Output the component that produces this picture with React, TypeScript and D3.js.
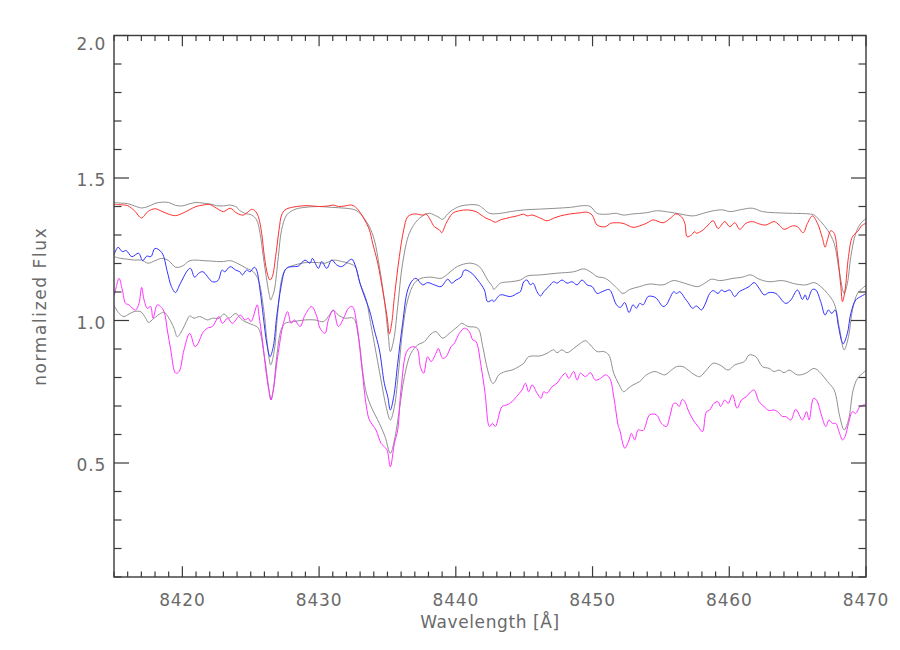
import React from "react";
import * as d3 from "d3";

const xDomain: [number, number] = [8415, 8470];
const yDomain: [number, number] = [0.1, 2.0];
const xMajorTicks = [8420, 8430, 8440, 8450, 8460, 8470];
const yMajorTicks = [0.5, 1.0, 1.5, 2.0];
const xTitle = "Wavelength [Å]";
const yTitle = "normalized Flux";

// [wavelength (Å), normalized flux]
const redSpectrum: [number, number][] = [
  [8415.0,1.408],[8415.5,1.406],[8416.0,1.403],[8416.5,1.385],[8417.0,1.360],[8417.5,1.383],[8418.0,1.392],[8418.5,1.383],[8419.0,1.373],[8419.5,1.368],[8420.0,1.376],[8420.5,1.388],[8421.0,1.400],[8421.5,1.405],[8422.0,1.407],[8422.5,1.394],[8423.0,1.382],[8423.5,1.394],[8424.0,1.376],
  [8424.46,1.370],[8424.82,1.382],[8425.07,1.390],[8425.31,1.385],[8425.56,1.364],[8425.80,1.306],[8426.0,1.224],[8426.24,1.160],[8426.41,1.142],[8426.58,1.154],[8426.82,1.224],[8427.07,1.318],[8427.26,1.370],[8427.51,1.388],[8428.0,1.397],[8428.73,1.402],[8429.21,1.403],[8429.95,1.400],[8430.68,1.402],[8431.04,1.405],[8431.41,1.400],[8431.90,1.402],[8432.39,1.405],[8432.75,1.394],[8433.12,1.370],[8433.46,1.341],
  [8433.68,1.318],[8433.92,1.271],[8434.29,1.201],[8434.65,1.107],[8434.97,1.014],[8435.14,0.953],[8435.31,0.990],[8435.51,1.084],[8435.87,1.224],[8436.19,1.318],[8436.48,1.364],[8436.97,1.374],[8437.58,1.370],[8437.82,1.374],[8438.14,1.353],[8438.43,1.329],[8438.80,1.318],[8438.97,1.308],[8439.29,1.341],[8439.77,1.376],[8440.26,1.385],[8440.87,1.388],[8441.48,1.382],[8441.85,1.370],[8442.21,1.359],
  [8442.53,1.353],[8442.89,1.345],[8443.26,1.353],[8444.0,1.362],[8444.48,1.367],[8444.97,1.373],[8445.21,1.367],[8445.58,1.370],[8446.19,1.359],[8446.67,1.350],[8447.16,1.359],[8447.65,1.367],[8448.38,1.374],[8449.11,1.378],[8449.60,1.380],[8449.97,1.370],[8450.33,1.335],[8450.94,1.329],[8451.31,1.341],
  [8451.75,1.343],[8452.23,1.341],[8452.96,1.327],[8453.45,1.332],[8453.94,1.341],[8454.43,1.353],[8455.16,1.343],[8455.77,1.362],[8456.09,1.374],[8456.50,1.364],[8456.75,1.341],[8456.92,1.294],[8457.23,1.300],[8457.48,1.312],[8457.60,1.306],[8458.09,1.318],[8458.45,1.335],[8458.82,1.350],[8459.18,1.323],[8459.67,1.347],[8460.04,1.329],[8460.40,1.343],[8460.77,1.320],
  [8461.21,1.341],[8461.69,1.347],[8462.18,1.339],[8462.67,1.335],[8463.28,1.347],[8463.65,1.335],[8464.01,1.320],[8464.62,1.332],[8464.99,1.329],[8465.40,1.308],[8465.72,1.341],[8466.08,1.367],[8466.45,1.341],[8466.82,1.288],[8467.01,1.257],[8467.18,1.283],[8467.43,1.315],[8467.67,1.306],[8467.91,1.236],[8468.16,1.119],[8468.28,1.066],[8468.47,1.107],[8468.72,1.224],[8469.01,1.294],[8469.38,1.312],[8469.74,1.335],[8470.03,1.341],
];

const grayTop: [number, number][] = [
  [8415.0,1.414],[8415.5,1.412],[8416.0,1.410],[8416.5,1.402],[8417.0,1.395],[8417.5,1.400],[8418.0,1.411],[8418.5,1.415],[8419.0,1.414],[8419.5,1.404],[8420.0,1.402],[8420.5,1.409],[8421.0,1.414],[8421.5,1.412],[8422.0,1.409],[8422.5,1.403],[8423.0,1.402],[8423.5,1.405],[8424.0,1.397],
  [8424.09,1.390],[8424.58,1.376],[8425.07,1.370],[8425.43,1.353],[8425.68,1.306],[8425.92,1.224],[8426.17,1.142],[8426.34,1.095],[8426.46,1.072],[8426.58,1.084],[8426.73,1.107],[8427.02,1.224],[8427.26,1.318],[8427.63,1.370],[8428.24,1.390],[8428.97,1.397],[8429.95,1.400],[8430.92,1.397],[8431.90,1.394],[8432.63,1.388],[8433.12,1.370],[8433.46,1.347],
  [8433.68,1.329],[8434.04,1.283],[8434.41,1.189],[8434.77,1.072],[8435.07,0.943],[8435.21,0.891],[8435.46,0.932],[8435.75,1.049],[8436.11,1.201],[8436.60,1.306],[8437.21,1.353],[8437.70,1.370],[8438.07,1.376],[8438.68,1.364],[8439.04,1.355],[8439.41,1.374],[8439.77,1.388],[8440.38,1.402],[8441.60,1.405],[8441.97,1.394],[8442.46,1.376],
  [8443.26,1.376],[8444.0,1.382],[8444.97,1.388],[8446.19,1.391],[8447.40,1.394],[8448.38,1.397],[8449.36,1.403],[8449.84,1.400],[8450.33,1.376],[8451.06,1.373],
  [8451.75,1.376],[8452.23,1.370],[8452.96,1.374],[8453.94,1.378],[8454.67,1.385],[8455.65,1.380],[8456.38,1.374],[8457.36,1.367],[8458.09,1.376],[8458.82,1.385],[8459.55,1.388],[8460.04,1.382],
  [8460.96,1.390],[8461.69,1.394],[8462.43,1.382],[8463.40,1.378],[8464.62,1.376],[8465.84,1.374],[8466.21,1.370],[8466.69,1.347],[8467.18,1.318],[8467.67,1.271],[8468.03,1.177],[8468.40,1.095],[8468.64,1.131],[8468.89,1.224],[8469.25,1.306],[8469.62,1.341],[8470.03,1.359],
];

const blueSpectrum: [number, number][] = [
  [8415.0,1.230],[8415.3,1.257],[8415.6,1.242],[8415.9,1.245],[8416.3,1.224],[8416.8,1.236],[8417.1,1.210],[8417.4,1.226],[8417.7,1.224],[8418.0,1.253],[8418.5,1.238],[8418.9,1.171],[8419.2,1.119],[8419.5,1.098],[8419.8,1.125],[8420.4,1.177],[8420.6,1.183],[8420.9,1.152],[8421.2,1.166],[8421.5,1.171],[8422.2,1.136],[8422.6,1.140],[8422.9,1.177],[8423.1,1.171],[8423.5,1.189],[8423.9,1.177],[8424.2,1.171],
  [8424.39,1.160],[8424.70,1.177],[8424.95,1.171],[8425.26,1.187],[8425.43,1.177],[8425.68,1.107],[8425.92,1.014],[8426.17,0.920],[8426.41,0.873],[8426.65,0.908],[8426.90,1.014],[8427.22,1.119],[8427.51,1.177],[8427.75,1.187],[8428.12,1.189],[8428.48,1.191],[8428.97,1.212],[8429.34,1.201],[8429.51,1.218],[8429.95,1.183],[8430.19,1.207],[8430.56,1.183],[8430.92,1.212],[8431.29,1.195],[8431.65,1.189],[8432.39,1.215],[8432.63,1.195],[8432.99,1.131],[8433.46,1.066],
  [8433.68,1.037],[8434.04,0.967],[8434.41,0.897],[8434.77,0.780],[8435.02,0.733],[8435.21,0.686],[8435.46,0.733],[8435.75,0.850],[8436.11,0.990],[8436.48,1.107],[8436.85,1.142],[8437.09,1.148],[8437.58,1.125],[8437.94,1.133],[8438.43,1.125],[8438.92,1.119],[8439.41,1.145],[8439.70,1.131],[8440.02,1.142],[8440.38,1.152],[8440.63,1.177],[8441.11,1.168],[8441.60,1.142],[8442.09,1.107],[8442.33,1.066],[8442.68,1.072],
  [8442.77,1.066],[8443.26,1.090],[8444.0,1.084],[8444.48,1.095],[8444.72,1.101],[8444.97,1.136],[8445.21,1.142],[8445.45,1.125],[8445.65,1.131],[8445.94,1.101],[8446.19,1.086],[8446.43,1.101],[8446.80,1.119],[8447.16,1.136],[8447.40,1.131],[8447.77,1.142],[8448.14,1.131],[8448.50,1.136],[8448.87,1.125],[8449.23,1.142],[8449.60,1.125],[8449.97,1.119],[8450.33,1.095],[8450.70,1.101],[8451.19,1.109],[8451.36,1.101],[8451.75,1.055],
  [8452.04,1.046],[8452.35,1.063],[8452.67,1.028],[8452.96,1.055],[8453.21,1.043],[8453.45,1.060],[8453.70,1.055],[8454.06,1.084],[8454.43,1.084],[8454.67,1.078],[8455.16,1.049],[8455.40,1.055],[8455.65,1.078],[8455.94,1.101],[8456.14,1.095],[8456.38,1.101],[8456.75,1.078],[8456.99,1.063],[8457.31,1.043],[8457.60,1.051],[8457.96,1.037],[8458.21,1.055],[8458.57,1.095],[8458.82,1.105],[8459.18,1.095],[8459.43,1.107],[8459.67,1.101],[8460.04,1.107],[8460.40,1.084],[8460.72,1.101],
  [8460.96,1.107],[8461.45,1.119],[8461.82,1.133],[8462.18,1.113],[8462.55,1.090],[8462.91,1.098],[8463.40,1.095],[8464.13,1.060],[8464.50,1.072],[8464.99,1.107],[8465.35,1.074],[8465.55,1.090],[8465.72,1.072],[8466.08,1.109],[8466.33,1.107],[8466.69,1.066],[8467.01,1.019],[8467.25,1.037],[8467.50,1.025],[8467.74,1.037],[8467.99,0.978],[8468.23,0.926],[8468.33,0.918],[8468.64,0.955],[8468.89,1.025],[8469.25,1.072],[8469.62,1.084],[8470.03,1.095],
];

const grayMiddle: [number, number][] = [
  [8415.0,1.224],[8415.5,1.218],[8416.0,1.215],[8416.5,1.212],[8417.0,1.212],[8417.5,1.201],[8418.0,1.210],[8418.5,1.218],[8419.0,1.210],[8419.5,1.187],[8420.0,1.191],[8420.5,1.209],[8421.0,1.212],[8421.5,1.210],[8422.0,1.209],[8422.5,1.207],[8423.0,1.207],[8423.5,1.210],[8424.0,1.201],
  [8424.70,1.183],[8425.19,1.171],[8425.56,1.142],[8425.92,1.049],[8426.24,0.908],[8426.46,0.844],[8426.73,0.897],[8426.97,1.025],[8427.31,1.154],[8427.63,1.183],[8428.24,1.195],[8428.97,1.203],[8429.95,1.203],[8430.43,1.201],[8431.04,1.212],[8431.65,1.207],[8432.14,1.201],[8432.63,1.189],[8432.99,1.131],[8433.46,1.072],
  [8433.68,1.014],[8434.04,0.920],[8434.53,0.791],[8434.90,0.698],[8435.21,0.651],[8435.51,0.698],[8435.82,0.826],[8436.11,0.967],[8436.48,1.072],[8436.97,1.131],[8437.46,1.148],[8438.19,1.152],[8438.92,1.148],[8439.41,1.163],[8439.89,1.183],[8440.38,1.195],[8441.11,1.201],[8441.72,1.189],[8442.33,1.142],[8442.68,1.119],
  [8442.77,1.109],[8443.26,1.131],[8444.0,1.136],[8444.72,1.142],[8445.21,1.156],[8446.19,1.160],[8447.40,1.166],[8448.62,1.171],[8449.36,1.181],[8449.84,1.171],[8450.33,1.154],[8450.94,1.148],[8451.67,1.119],
  [8452.23,1.095],[8452.72,1.109],[8453.45,1.119],[8454.18,1.128],[8455.16,1.125],[8455.89,1.140],[8456.38,1.136],[8457.11,1.125],[8457.72,1.119],[8458.21,1.131],[8458.70,1.145],[8459.31,1.140],[8460.28,1.148],
  [8460.96,1.152],[8461.57,1.160],[8462.18,1.145],[8462.91,1.136],[8463.89,1.140],[8464.86,1.128],[8465.60,1.125],[8466.21,1.133],[8466.69,1.119],[8467.18,1.095],[8467.67,1.060],[8468.08,0.967],[8468.40,0.897],[8468.72,0.943],[8469.01,1.037],[8469.38,1.095],[8469.74,1.113],[8470.03,1.125],
];

const magentaSpectrum: [number, number][] = [
  [8415.0,1.084],[8415.17,1.119],[8415.37,1.148],[8415.61,1.107],[8415.85,1.060],[8416.10,1.055],[8416.34,1.043],[8416.59,1.037],[8416.83,1.060],[8417.02,1.116],[8417.20,1.072],[8417.44,1.043],[8417.68,1.049],[8417.85,1.008],[8418.17,1.055],[8418.41,1.049],[8418.66,1.031],[8418.90,0.967],[8419.15,0.897],[8419.51,0.815],[8419.76,0.821],[8420.12,0.897],[8420.54,0.955],[8420.93,0.908],[8421.22,0.926],[8421.46,0.955],[8421.83,0.973],[8422.20,0.979],[8422.68,1.014],[8422.93,0.990],[8423.30,1.008],[8423.66,0.990],[8424.24,1.019],
  [8424.58,1.002],[8424.82,1.008],[8425.02,0.996],[8425.48,1.055],[8425.60,1.019],[8425.85,0.932],[8426.17,0.803],[8426.41,0.733],[8426.48,0.721],[8426.65,0.756],[8426.97,0.873],[8427.39,0.990],[8427.70,1.031],[8427.95,0.990],[8428.19,1.002],[8428.61,0.979],[8428.97,1.019],[8429.46,1.049],[8429.83,1.014],[8430.07,0.973],[8430.43,0.955],[8430.68,1.002],[8431.04,1.037],[8431.41,0.979],[8431.85,1.014],[8432.14,1.043],[8432.43,1.049],[8432.75,0.990],[8433.12,0.838],[8433.46,0.698],
  [8433.68,0.651],[8434.16,0.616],[8434.53,0.569],[8434.77,0.557],[8434.97,0.546],[8435.21,0.487],[8435.51,0.569],[8435.75,0.616],[8435.99,0.756],[8436.48,0.897],[8436.97,0.908],[8437.21,0.897],[8437.41,0.838],[8437.65,0.815],[8437.94,0.873],[8438.19,0.856],[8438.55,0.885],[8438.72,0.902],[8439.04,0.867],[8439.29,0.873],[8439.65,0.908],[8439.89,0.920],[8440.26,0.955],[8440.63,0.973],[8440.99,0.961],[8441.24,0.932],[8441.48,0.926],[8441.85,0.838],[8442.14,0.745],[8442.46,0.628],[8442.68,0.639],
  [8442.89,0.628],[8443.38,0.698],[8443.75,0.704],[8444.11,0.715],[8444.43,0.733],[8444.84,0.756],[8445.09,0.780],[8445.33,0.750],[8445.58,0.774],[8445.94,0.745],[8446.23,0.727],[8446.43,0.750],[8446.67,0.745],[8447.04,0.768],[8447.40,0.780],[8447.65,0.797],[8448.02,0.815],[8448.26,0.797],[8448.62,0.821],[8448.87,0.791],[8449.11,0.815],[8449.48,0.803],[8449.84,0.817],[8450.21,0.791],[8450.58,0.797],[8450.94,0.809],[8451.26,0.797],[8451.55,0.733],[8451.89,0.628],
  [8451.99,0.616],[8452.36,0.552],[8452.67,0.581],[8452.84,0.604],[8453.09,0.581],[8453.33,0.616],[8453.70,0.614],[8454.18,0.669],[8454.67,0.669],[8455.04,0.639],[8455.40,0.628],[8455.65,0.663],[8455.94,0.709],[8456.14,0.709],[8456.33,0.698],[8456.57,0.723],[8456.75,0.715],[8456.99,0.686],[8457.36,0.651],[8457.72,0.628],[8458.04,0.610],[8458.33,0.680],[8458.57,0.686],[8458.87,0.709],[8459.18,0.715],[8459.36,0.698],[8459.67,0.721],[8459.92,0.709],[8460.23,0.739],[8460.57,0.692],[8460.89,0.721],
  [8461.25,0.733],[8461.57,0.750],[8461.82,0.756],[8462.18,0.715],[8462.55,0.698],[8462.91,0.684],[8463.28,0.686],[8463.60,0.677],[8463.89,0.663],[8464.13,0.663],[8464.50,0.651],[8464.86,0.688],[8465.35,0.651],[8465.65,0.680],[8465.84,0.651],[8466.16,0.727],[8466.38,0.721],[8466.77,0.663],[8467.06,0.628],[8467.30,0.651],[8467.55,0.639],[8467.79,0.639],[8468.03,0.610],[8468.28,0.581],[8468.47,0.593],[8468.72,0.639],[8469.01,0.680],[8469.25,0.674],[8469.55,0.698],[8469.86,0.704],[8470.03,0.709],
];

const grayBottom: [number, number][] = [
  [8415.0,1.053],[8415.37,1.025],[8415.73,1.014],[8416.10,1.023],[8416.46,1.031],[8416.95,1.031],[8417.32,1.008],[8417.51,0.993],[8417.93,1.008],[8418.41,1.025],[8418.66,1.029],[8419.02,1.008],[8419.39,0.973],[8419.63,0.943],[8420.00,0.967],[8420.29,0.996],[8420.54,1.016],[8420.85,1.008],[8421.27,1.014],[8421.83,1.002],[8422.20,1.008],[8422.68,1.008],[8423.05,1.023],[8423.41,1.008],[8423.90,1.025],[8424.24,1.008],
  [8424.58,0.996],[8425.19,0.984],[8425.56,0.973],[8426.00,0.873],[8426.34,0.756],[8426.48,0.721],[8426.65,0.756],[8426.90,0.873],[8427.22,0.967],[8427.51,0.990],[8428.12,0.996],[8428.97,1.002],[8429.70,1.002],[8430.31,0.996],[8430.68,1.014],[8431.04,1.035],[8431.41,1.019],[8431.90,1.008],[8432.51,1.008],[8432.87,0.943],[8433.24,0.803],[8433.46,0.745],
  [8433.80,0.698],[8434.41,0.639],[8434.82,0.593],[8435.21,0.534],[8435.51,0.581],[8435.87,0.686],[8436.24,0.803],[8436.72,0.885],[8437.21,0.914],[8437.70,0.926],[8438.19,0.953],[8438.55,0.961],[8439.04,0.938],[8439.53,0.955],[8440.14,0.979],[8440.43,0.990],[8440.87,0.979],[8441.60,0.973],[8441.97,0.908],[8442.33,0.826],[8442.68,0.780],
  [8442.82,0.782],[8443.14,0.809],[8443.62,0.821],[8444.11,0.826],[8444.60,0.838],[8444.97,0.850],[8445.33,0.873],[8446.19,0.876],[8446.67,0.885],[8447.16,0.897],[8447.40,0.887],[8447.77,0.897],[8448.14,0.887],[8448.62,0.902],[8449.11,0.920],[8449.48,0.929],[8449.84,0.914],[8450.33,0.891],[8450.82,0.891],[8451.19,0.879],[8451.55,0.815],[8451.89,0.780],
  [8452.28,0.750],[8452.60,0.762],[8452.96,0.774],[8453.45,0.786],[8453.94,0.809],[8454.55,0.821],[8454.92,0.815],[8455.28,0.809],[8455.77,0.826],[8456.14,0.838],[8456.62,0.838],[8456.99,0.826],[8457.48,0.809],[8457.84,0.803],[8458.33,0.826],[8458.82,0.850],[8459.31,0.844],[8459.92,0.826],[8460.40,0.844],[8461.11,0.856],
  [8461.45,0.879],[8461.94,0.873],[8462.43,0.838],[8462.91,0.832],[8463.28,0.821],[8463.65,0.826],[8464.01,0.817],[8464.38,0.826],[8464.99,0.809],[8465.60,0.815],[8466.21,0.832],[8466.69,0.815],[8467.18,0.786],[8467.67,0.756],[8468.08,0.663],[8468.40,0.616],[8468.72,0.651],[8469.06,0.756],[8469.38,0.797],[8469.62,0.809],[8470.03,0.826],
];

const seriesList = [
  { name: "model top", data: grayTop, color: "#909090" },
  { name: "model middle", data: grayMiddle, color: "#909090" },
  { name: "model bottom", data: grayBottom, color: "#909090" },
  { name: "red", data: redSpectrum, color: "#ff3030" },
  { name: "blue", data: blueSpectrum, color: "#3030ff" },
  { name: "magenta", data: magentaSpectrum, color: "#ff30ff" },
];

export default function App() {
  const W = 900, H = 650;
  const left = 114, right = 866, top = 35.5, bottom = 577;
  const x = d3.scaleLinear().domain(xDomain).range([left, right]);
  const y = d3.scaleLinear().domain(yDomain).range([bottom, top]);
  const line = d3
    .line<[number, number]>()
    .x((d) => x(d[0]))
    .y((d) => y(d[1]))
    .curve(d3.curveCatmullRom.alpha(0.5));

  const xMinor = d3.range(8415, 8471, 1).filter((v) => !xMajorTicks.includes(v));
  const yMinor = d3.range(1, 20).map((v) => v / 10).filter((v) => !yMajorTicks.some((m) => Math.abs(m - v) < 1e-6));
  const xMajLen = 10.8, xMinLen = 5.4, yMajLen = 15, yMinLen = 7.5;
  const axisColor = "#3a3a3a";
  const textColor = "#6a6a6a";
  const font = "'DejaVu Sans', sans-serif";

  return (
    <svg width={W} height={H} style={{ position: "absolute", left: 0, top: 0, background: "#fff" }}>
      <defs>
        <clipPath id="plotClip">
          <rect x={left} y={top} width={right - left} height={bottom - top} />
        </clipPath>
      </defs>
      <rect x={0} y={0} width={W} height={H} fill="#fff" />
      <g clipPath="url(#plotClip)" fill="none" strokeWidth={1} strokeLinejoin="round">
        {seriesList.map((s) => (
          <path key={s.name} d={line(s.data) || ""} stroke={s.color} />
        ))}
      </g>
      <rect x={left} y={top} width={right - left} height={bottom - top} fill="none" stroke={axisColor} strokeWidth={1.4} />
      <g stroke={axisColor} strokeWidth={1.2}>
        {xMajorTicks.map((v) => (
          <g key={"xM" + v}>
            <line x1={x(v)} x2={x(v)} y1={bottom} y2={bottom - xMajLen} />
            <line x1={x(v)} x2={x(v)} y1={top} y2={top + xMajLen} />
          </g>
        ))}
        {xMinor.map((v) => (
          <g key={"xm" + v}>
            <line x1={x(v)} x2={x(v)} y1={bottom} y2={bottom - xMinLen} />
            <line x1={x(v)} x2={x(v)} y1={top} y2={top + xMinLen} />
          </g>
        ))}
        {yMajorTicks.map((v) => (
          <g key={"yM" + v}>
            <line x1={left} x2={left + yMajLen} y1={y(v)} y2={y(v)} />
            <line x1={right} x2={right - yMajLen} y1={y(v)} y2={y(v)} />
          </g>
        ))}
        {yMinor.map((v) => (
          <g key={"ym" + v}>
            <line x1={left} x2={left + yMinLen} y1={y(v)} y2={y(v)} />
            <line x1={right} x2={right - yMinLen} y1={y(v)} y2={y(v)} />
          </g>
        ))}
      </g>
      <g fill={textColor} fontFamily={font} fontSize={17}>
        {xMajorTicks.map((v) => (
          <text key={"xl" + v} x={x(v)} y={606} textAnchor="middle" letterSpacing={0.8}>
            {v}
          </text>
        ))}
        {yMajorTicks.map((v) => (
          <text key={"yl" + v} x={106} y={Math.max(y(v) + 8, 50)} textAnchor="end" letterSpacing={0.8}>
            {v.toFixed(1)}
          </text>
        ))}
        <text x={(left + right) / 2} y={628} textAnchor="middle" letterSpacing={0.6}>
          {xTitle}
        </text>
        <text transform={`translate(46, ${(top + bottom) / 2}) rotate(-90)`} textAnchor="middle" letterSpacing={1.6}>
          {yTitle}
        </text>
      </g>
    </svg>
  );
}
